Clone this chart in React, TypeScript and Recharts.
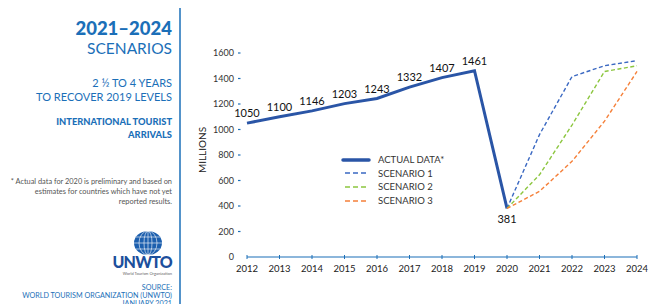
import { LineChart, Line, XAxis, YAxis, LabelList } from "recharts"

const years = [2012, 2013, 2014, 2015, 2016, 2017, 2018, 2019, 2020, 2021, 2022, 2023, 2024]
// actual arrivals 2012-2020, millions
const actualData = [1050, 1100, 1146, 1203, 1243, 1332, 1407, 1461, 381]
// scenarios start at 2020
const scenario1 = [381, 960, 1415, 1500, 1540]
const scenario2 = [381, 645, 1035, 1455, 1500]
const scenario3 = [381, 515, 750, 1065, 1455]
const yTicks = [0, 200, 400, 600, 800, 1000, 1200, 1400, 1600]

const BLUE = "#1b6fb8"
const DARK_BLUE = "#2a55a6"
const FONT = "Lato, 'Noto Sans', sans-serif"

const series = [
  { key: "actual", name: "ACTUAL DATA*", color: DARK_BLUE, thick: true },
  { key: "s1", name: "SCENARIO 1", color: "#3a68c2", thick: false },
  { key: "s2", name: "SCENARIO 2", color: "#8cc63f", thick: false },
  { key: "s3", name: "SCENARIO 3", color: "#f5803a", thick: false },
]

const rows = years.map((year, i) => ({
  year,
  actual: i < actualData.length ? actualData[i] : null,
  s1: i >= 8 ? scenario1[i - 8] : null,
  s2: i >= 8 ? scenario2[i - 8] : null,
  s3: i >= 8 ? scenario3[i - 8] : null,
}))

const YTick = (props: any) => {
  const { x, y, payload } = props
  return (
    <g>
      <text x={x - 5} y={y} dy={3.3} textAnchor="end" fontSize={9} fontFamily={FONT} fill="#333">
        {payload.value}
      </text>
      {payload.value !== 0 && <line x1={x - 1} x2={x + 1.5} y1={y} y2={y} stroke={BLUE} strokeWidth={1.2} />}
    </g>
  )
}

const XTick = (props: any) => {
  const { x, y, payload } = props
  return (
    <g>
      <line x1={x} x2={x} y1={y - 2} y2={y + 2} stroke={BLUE} strokeWidth={1} />
      <text x={x} y={y + 15} textAnchor="middle" fontSize={9.5} fontFamily={FONT} fill="#222">
        {payload.value}
      </text>
    </g>
  )
}

const ValueLabel = (props: any) => {
  const { x, y, value } = props
  if (value == null) return null
  const below = value < 500
  return (
    <text x={x} y={below ? y + 15 : y - 6} textAnchor="middle" fontSize={11} fontFamily={FONT} fill="#111">
      {value}
    </text>
  )
}

const ChartLegend = () => (
  <div style={{ position: "absolute", left: 340, top: 153 }}>
    {series.map((s) => (
      <div key={s.key} style={{ display: "flex", alignItems: "center", height: 13.6 }}>
        <svg width={38} height={8}>
          {s.thick ? (
            <line x1={3} x2={29} y1={4} y2={4} stroke={s.color} strokeWidth={3.5} strokeLinecap="round" />
          ) : (
            <line x1={5} x2={28} y1={4} y2={4} stroke={s.color} strokeWidth={1.6} strokeDasharray="5 3" />
          )}
        </svg>
        <span style={{ fontFamily: FONT, fontSize: 9.5, color: "#333", lineHeight: "13px" }}>{s.name}</span>
      </div>
    ))}
  </div>
)

const LeftPanel = () => (
  <svg width={656} height={304} style={{ position: "absolute", left: 0, top: 0, pointerEvents: "none" }}>
    <line x1={180} x2={180} y1={8} y2={304} stroke={BLUE} strokeWidth={1.5} />
    <g fontFamily={FONT} textAnchor="end">
      <text x={172} y={35} fontSize={18.5} fontWeight={900} fill={BLUE}>2021–2024</text>
      <text x={172} y={53.5} fontSize={15.5} fill={BLUE}>SCENARIOS</text>
      <text x={172} y={87} fontSize={11} fill={BLUE}>2 ½ TO 4 YEARS</text>
      <text x={172} y={101} fontSize={11} fill={BLUE}>TO RECOVER 2019 LEVELS</text>
      <text x={172} y={125} fontSize={9.3} fontWeight={900} fill={BLUE}>INTERNATIONAL TOURIST</text>
      <text x={172} y={138} fontSize={9.3} fontWeight={900} fill={BLUE}>ARRIVALS</text>
      <text x={172} y={184} fontSize={7.4} fill="#555">* Actual data for 2020 is preliminary and based on</text>
      <text x={172} y={194} fontSize={7.4} fill="#555">estimates for countries which have not yet</text>
      <text x={172} y={204} fontSize={7.4} fill="#555">reported results.</text>
      <text x={172} y={268} fontSize={16} fontWeight={900} fill="#1c4f9c" letterSpacing={-0.8}>UNWTO</text>
      <text x={172} y={275} fontSize={4} fill="#666">World Tourism Organization</text>
      <text x={172} y={290} fontSize={7.2} fill={BLUE}>SOURCE:</text>
      <text x={172} y={298} fontSize={7.2} fill={BLUE}>WORLD TOURISM ORGANIZATION (UNWTO)</text>
      <text x={172} y={306} fontSize={7.2} fill={BLUE}>JANUARY 2021</text>
    </g>
    <g fill="none">
      <ellipse cx={148} cy={243} rx={14} ry={12} fill="#1c5fae" />
      <g stroke="#fff" strokeWidth={0.6}>
        <ellipse cx={148} cy={243} rx={9} ry={12} />
        <ellipse cx={148} cy={243} rx={4} ry={12} />
        <line x1={134} x2={162} y1={243} y2={243} />
        <line x1={136} x2={160} y1={237} y2={237} />
        <line x1={136} x2={160} y1={249} y2={249} />
        <line x1={148} x2={148} y1={231} y2={255} />
      </g>
    </g>
    <text
      transform="translate(206,150) rotate(-90)"
      textAnchor="middle"
      fontFamily={FONT}
      fontSize={10}
      fill="#222"
    >
      MILLIONS
    </text>
  </svg>
)

export default function App() {
  return (
    <div style={{ position: "absolute", left: 0, top: 0, width: 656, height: 304, background: "#fff" }}>
      <LineChart width={656} height={304} data={rows} margin={{ top: 53, right: 19, bottom: 17, left: 207 }}>
        <XAxis
          dataKey="year"
          type="number"
          domain={[2012, 2024]}
          ticks={years}
          interval={0}
          height={30}
          tickSize={0}
          tickMargin={0}
          tick={<XTick />}
          axisLine={{ stroke: BLUE, strokeWidth: 1.2 }}
          tickLine={false}
        />
        <YAxis
          width={40}
          domain={[0, 1600]}
          ticks={yTicks}
          interval={0}
          tick={<YTick />}
          axisLine={false}
          tickLine={false}
        />
        {series.map((s) => (
          <Line
            key={s.key}
            dataKey={s.key}
            stroke={s.color}
            strokeWidth={s.thick ? 3 : 1.4}
            strokeDasharray={s.thick ? undefined : "4 2.5"}
            dot={false}
            isAnimationActive={false}
          >
            {s.thick && <LabelList dataKey={s.key} content={<ValueLabel />} />}
          </Line>
        ))}
      </LineChart>
      <ChartLegend />
      <LeftPanel />
    </div>
  )
}
